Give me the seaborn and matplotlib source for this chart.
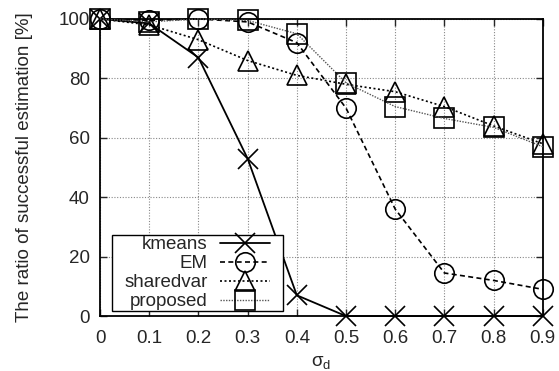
import matplotlib
matplotlib.use("Agg")
import matplotlib.pyplot as plt
from matplotlib.path import Path
import seaborn as sns
import pandas as pd

sigma = [0.0, 0.1, 0.2, 0.3, 0.4, 0.5, 0.6, 0.7, 0.8, 0.9]
kmeans = [100, 98.5, 87, 53, 7, 0, 0, 0, 0, 0]
em = [100, 99.5, 100, 99, 92, 70, 36, 14.5, 12, 9]
sharedvar = [100, 98, 93, 86, 81, 78, 75.5, 70.5, 64, 58]
proposed = [100, 99, 100, 99.5, 95, 78.5, 70.5, 66.5, 63.5, 57]
series_names = ["kmeans", "EM", "sharedvar", "proposed"]
xticks = [0, 0.1, 0.2, 0.3, 0.4, 0.5, 0.6, 0.7, 0.8, 0.9]
xticklabels = ["0", "0.1", "0.2", "0.3", "0.4", "0.5", "0.6", "0.7", "0.8", "0.9"]
yticks = [0, 20, 40, 60, 80, 100]

sns.set_style("ticks")
plt.rcParams["font.family"] = ["Liberation Sans", "DejaVu Sans"]
plt.rcParams["mathtext.fontset"] = "custom"
plt.rcParams["mathtext.rm"] = "Liberation Sans"
plt.rcParams["mathtext.it"] = "Liberation Sans"
plt.rcParams["mathtext.sf"] = "Liberation Sans"

df = pd.DataFrame({
    "sigma": sigma * 4,
    "ratio": kmeans + em + sharedvar + proposed,
    "method": sum([[n] * len(sigma) for n in series_names], []),
})

fig = plt.figure(figsize=(5.59, 3.71), dpi=100)
ax = fig.add_axes([0.179, 0.148, 0.792, 0.801])

styles = {
    "kmeans": dict(marker="x", linestyle="-", color="black", lw=1.3),
    "EM": dict(marker="o", linestyle=(0, (3, 2)), color="black", lw=1.2),
    "sharedvar": dict(marker="^", linestyle=(0, (1.2, 1.5)), color="black", lw=1.2),
    "proposed": dict(marker="s", linestyle=(0, (1, 1)), color="#555555", lw=1.0),
}

for name in series_names:
    st = styles[name]
    sub = df[df["method"] == name]
    sns.lineplot(data=sub, x="sigma", y="ratio", ax=ax, label=name,
                 color=st["color"], linestyle=st["linestyle"], linewidth=st["lw"],
                 marker=st["marker"], markersize=14, markerfacecolor="none",
                 markeredgecolor="black", markeredgewidth=1.2,
                 clip_on=False, zorder=3)

ax.set_xlim(0, 0.9)
ax.set_ylim(0, 100)
ax.set_xticks(xticks)
ax.set_xticklabels(xticklabels)
ax.set_yticks(yticks)
ax.tick_params(direction="in", top=True, right=True, labelsize=13.5,
               length=5, width=1)
ax.tick_params(axis="x", pad=10)
ax.tick_params(axis="y", pad=7.5)
ax.grid(True, linestyle=(0, (1, 1.5)), color="#888888", linewidth=0.8)
for sp in ax.spines.values():
    sp.set_visible(True)
    sp.set_linewidth(1.3)
    sp.set_color("black")

ax.set_xlabel(r"$\sigma_\mathrm{d}$", fontsize=13.5, labelpad=5)
ax.set_ylabel("The ratio of successful estimation [%]", fontsize=13.5)
ax.yaxis.set_label_coords(-0.151, 0.5)


def wide_box(x0, y0, width, height, mutation_size):
    # rectangle padded sideways only
    px = 0.62 * mutation_size
    x1, y1 = x0 - px, y0
    x2, y2 = x0 + width + px, y0 + height
    return Path([(x1, y1), (x2, y1), (x2, y2), (x1, y2), (x1, y1)],
                closed=True)


leg = ax.legend(loc="lower left", bbox_to_anchor=(0.053, 0.017), markerfirst=False,
                frameon=True, fancybox=False, fontsize=13.5, handlelength=2.7,
                labelspacing=0.1, borderpad=0.05, handletextpad=0.64,
                borderaxespad=0)
frame = leg.get_frame()
frame.set_boxstyle(wide_box)
frame.set_edgecolor("black")
frame.set_linewidth(1.0)
frame.set_alpha(1.0)

fig.savefig("out.png", dpi=100)
